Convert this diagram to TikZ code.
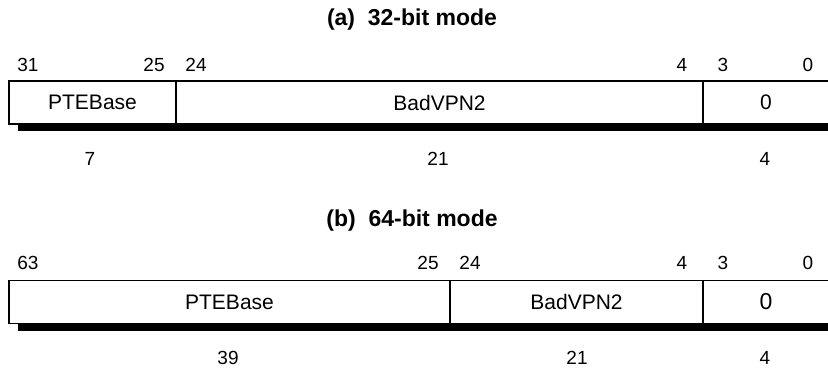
\documentclass[tikz,border=0pt]{standalone}
\usepackage{fontspec}
\setmainfont{Liberation Sans}
\usepackage{tikz}

\begin{document}
\begin{tikzpicture}[x=0.5pt, y=-0.5pt,
    field/.style={draw, line width=0.8pt, inner sep=0pt, outer sep=0pt,
      minimum height=21.5pt, font=\fontsize{10.5}{12}\selectfont},
    bitno/.style={inner sep=0pt, font=\fontsize{9.5}{11}\selectfont},
    title/.style={inner sep=0pt, anchor=base,
      font=\fontsize{11.5}{13}\selectfont\bfseries}]
    \useasboundingbox (0,0) rectangle (828,369);
    % (a) 32-bit mode
    \node[title] (ta) at (412,26) {(a)~~32-bit mode};
    \fill (18,124) rectangle (840,131);
    \node[field, minimum width=83.5pt] (pteA) at (92.5,102.5) {PTEBase};
    \node[field, minimum width=263.5pt] (vpnA) at (439.5,102.5) {BadVPN2};
    \node[field, minimum width=63pt] (zeroA) at (766,102.5) {0};
    \foreach \n/\x in {31/28, 25/154, 24/196, 4/682, 3/723, 0/808}
      \node[bitno] (ha\n) at (\x,65) {\n};
    \foreach \n/\x in {7/90, 21/438, 4/765}
      \node[bitno] (wa\n) at (\x,159) {\n};
    % (b) 64-bit mode
    \node[title] (tb) at (412,226.5) {(b)~~64-bit mode};
    \fill (18,323) rectangle (840,331);
    \node[field, minimum width=220.5pt] (pteB) at (229.5,302) {PTEBase};
    \node[field, minimum width=126.5pt] (vpnB) at (576.5,302) {BadVPN2};
    \node[field, minimum width=63pt, font=\fontsize{11.5}{13}\selectfont] (zeroB) at (766,302) {0};
    \foreach \n/\x in {63/28, 25/428, 24/470, 4/682, 3/723, 0/808}
      \node[bitno] (hb\n) at (\x,263) {\n};
    \foreach \n/\x in {39/228, 21/577, 4/765}
      \node[bitno] (wb\n) at (\x,358) {\n};
  \end{tikzpicture}
\end{document}
